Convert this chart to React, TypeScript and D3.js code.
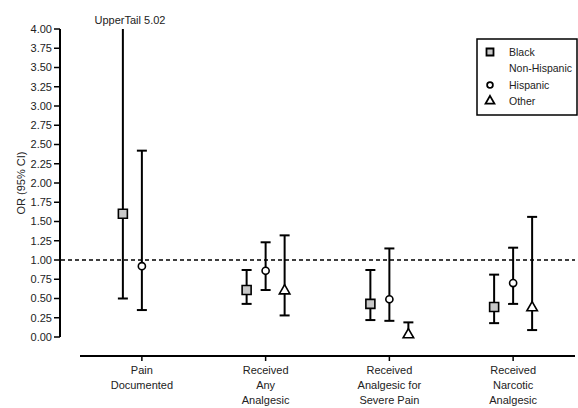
import * as d3 from "d3";

const categories = [
  ["Pain", "Documented"],
  ["Received", "Any", "Analgesic"],
  ["Received", "Analgesic for", "Severe Pain"],
  ["Received", "Narcotic", "Analgesic"],
];
const groups = ["Black Non-Hispanic", "Hispanic", "Other"];

const blackOR = [1.6, 0.61, 0.43, 0.39];
const blackLo = [0.5, 0.43, 0.22, 0.18];
const blackHi = [5.02, 0.87, 0.87, 0.81];

const hispOR = [0.92, 0.86, 0.49, 0.7];
const hispLo = [0.35, 0.61, 0.21, 0.43];
const hispHi = [2.42, 1.23, 1.15, 1.16];

const otherOR = [null, 0.6, 0.03, 0.38];
const otherLo = [null, 0.28, 0.0, 0.09];
const otherHi = [null, 1.32, 0.19, 1.56];

const yTicks = d3.range(0, 4.01, 0.25);

const W = 578;
const H = 408;
const FONT = "'Liberation Sans', Arial, sans-serif";

export default function App() {
  const y = d3.scaleLinear().domain([0, 4]).range([337, 29]);
  const x = d3
    .scaleBand<number>()
    .domain(d3.range(categories.length))
    .range([80, 575]);
  const off = d3.scalePoint<string>().domain(groups).range([-19, 19]);

  const series = [
    { key: groups[0], or: blackOR, lo: blackLo, hi: blackHi },
    { key: groups[1], or: hispOR, lo: hispLo, hi: hispHi },
    { key: groups[2], or: otherOR, lo: otherLo, hi: otherHi },
  ];

  const marker = (key: string, big: boolean) => {
    if (key === groups[0])
      return { d: d3.symbol(d3.symbolSquare, big ? 81 : 49)()!, fill: "#c8c8c8" };
    if (key === groups[1])
      return { d: d3.symbol(d3.symbolCircle, big ? 40 : 26)()!, fill: "#fff" };
    return { d: d3.symbol(d3.symbolTriangle, big ? 48 : 34)()!, fill: "#fff" };
  };

  const cx = (i: number) => x(i)! + x.bandwidth() / 2;
  const clip = (v: number) => Math.min(v, 4);
  const cap = 5;

  return (
    <svg
      width={W}
      height={H}
      style={{ position: "absolute", left: 0, top: 0, background: "#fff" }}
      fontFamily={FONT}
    >
      {/* y axis */}
      <line x1={60} x2={60} y1={y(4)} y2={y(0)} stroke="#000" strokeWidth={2} />
      {yTicks.map((t) => (
        <g key={t}>
          <line x1={54} x2={60} y1={y(t)} y2={y(t)} stroke="#000" strokeWidth={1.5} />
          <text x={52} y={y(t)} dy="0.35em" textAnchor="end" fontSize={11} fill="#222">
            {t.toFixed(2)}
          </text>
        </g>
      ))}
      <text
        transform={`translate(21,${(y(0) + y(4)) / 2}) rotate(-90)`}
        textAnchor="middle"
        fontSize={11}
        dy="0.35em"
        fill="#222"
      >
        OR (95% CI)
      </text>

      {/* reference line */}
      <line
        x1={61}
        x2={575}
        y1={y(1)}
        y2={y(1)}
        stroke="#000"
        strokeWidth={1.5}
        strokeDasharray="4,3"
      />

      {/* x axis */}
      <line x1={80} x2={575} y1={356} y2={356} stroke="#000" strokeWidth={2} />
      {categories.map((lines, i) => (
        <g key={i}>
          <line x1={cx(i)} x2={cx(i)} y1={356} y2={361} stroke="#000" strokeWidth={1.5} />
          {lines.map((l, j) => (
            <text
              key={j}
              x={cx(i)}
              y={370 + j * 15}
              dy="0.35em"
              textAnchor="middle"
              fontSize={11}
              fill="#222"
            >
              {l}
            </text>
          ))}
        </g>
      ))}

      {/* error bars */}
      {series.map((s) =>
        s.or.map((v, i) => {
          if (v == null) return null;
          const px = cx(i) + off(s.key)!;
          const lo = y(s.lo[i] as number);
          const hi = y(clip(s.hi[i] as number));
          const m = marker(s.key, true);
          const capped = (s.hi[i] as number) <= 4;
          return (
            <g key={s.key + i}>
              <line x1={px} x2={px} y1={lo} y2={hi} stroke="#000" strokeWidth={2} />
              <line x1={px - cap} x2={px + cap} y1={lo} y2={lo} stroke="#000" strokeWidth={2} />
              {capped && (
                <line x1={px - cap} x2={px + cap} y1={hi} y2={hi} stroke="#000" strokeWidth={2} />
              )}
              <path
                d={m.d}
                transform={`translate(${px},${y(v)})`}
                fill={m.fill}
                stroke="#000"
                strokeWidth={1.6}
              />
            </g>
          );
        })
      )}
      <text x={130} y={24} textAnchor="middle" fontSize={11} fill="#222">
        UpperTail 5.02
      </text>

      {/* legend */}
      <rect x={477} y={39} width={100} height={76} fill="#fff" stroke="#000" strokeWidth={1.5} />
      {[
        { key: groups[0], lines: ["Black", "Non-Hispanic"], y: 52 },
        { key: groups[1], lines: ["Hispanic"], y: 85 },
        { key: groups[2], lines: ["Other"], y: 101 },
      ].map((it) => {
        const m = marker(it.key, false);
        return (
          <g key={it.key}>
            <path
              d={m.d}
              transform={`translate(490,${it.y})`}
              fill={m.fill}
              stroke="#000"
              strokeWidth={1.8}
            />
            {it.lines.map((l, j) => (
              <text key={j} x={509} y={it.y + j * 16} dy="0.35em" fontSize={10.5} fill="#222">
                {l}
              </text>
            ))}
          </g>
        );
      })}
    </svg>
  );
}
